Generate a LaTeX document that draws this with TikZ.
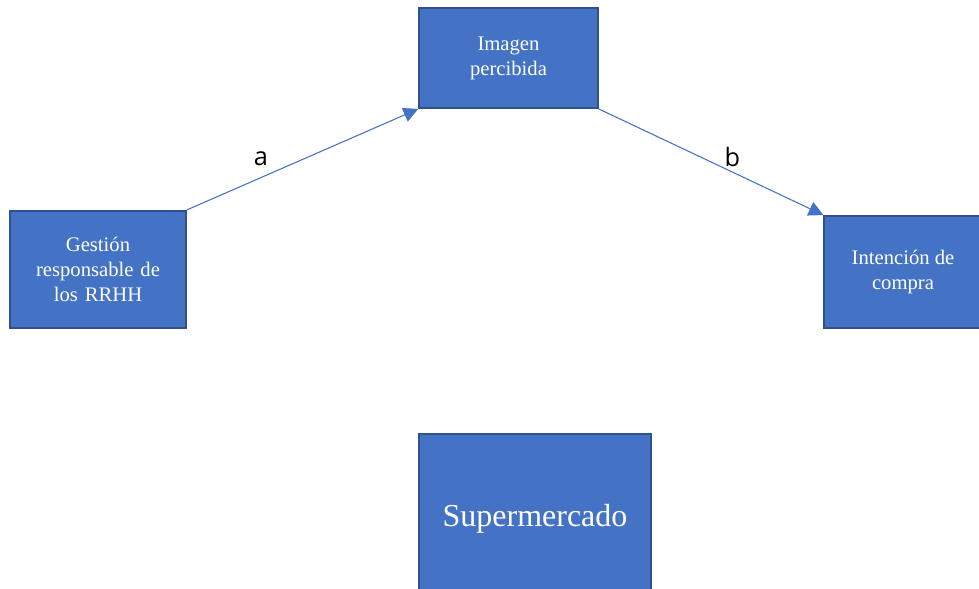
\documentclass[tikz,border=0pt]{standalone}
\usepackage{fontspec}
\setmainfont{Liberation Serif}
\newfontfamily\labelfont{Open Sans}
\usetikzlibrary{arrows.meta}
\definecolor{boxfill}{HTML}{4472C4}
\definecolor{boxline}{HTML}{2F528F}
\tikzset{
	varbox/.style={draw=boxline,fill=boxfill,line width=1.4pt,text=white,align=center,font=\fontsize{15.5}{18.8}\selectfont,inner sep=0pt},
	link/.style={draw=boxfill,line width=0.8pt,-{Triangle[length=11pt,width=11pt]}},
	coef/.style={font=\labelfont\fontsize{19}{22}\selectfont,anchor=base}
}
\begin{document}
\begin{tikzpicture}[x=0.75pt,y=-0.75pt]
	\useasboundingbox (0,0) rectangle (979,589);
	\clip (0,0) rectangle (979,589);
	\node[varbox,minimum width=134pt,minimum height=75pt] (imagen) at (508.5,58) {Imagen\\percibida};
	\node[varbox,minimum width=132pt,minimum height=88pt,text width=120pt] (gestion) at (98,269.5) {Gesti\'on\\responsable de\\los RRHH};
	\node[varbox,minimum width=118pt,minimum height=84pt] (intencion) at (903,272) {Intenci\'on de\\compra};
	\node[varbox,minimum width=174pt,minimum height=128pt,font=\fontsize{24}{28}\selectfont] (super) at (535,519) {Supermercado};
	\draw[link] (gestion.north east) -- node[coef,pos=0.32,yshift=9pt] (a) {a} (imagen.south west);
	\draw[link] (imagen.south east) -- node[coef,pos=0.595,yshift=4.5pt] (b) {b} (intencion.north west);
\end{tikzpicture}
\end{document}
